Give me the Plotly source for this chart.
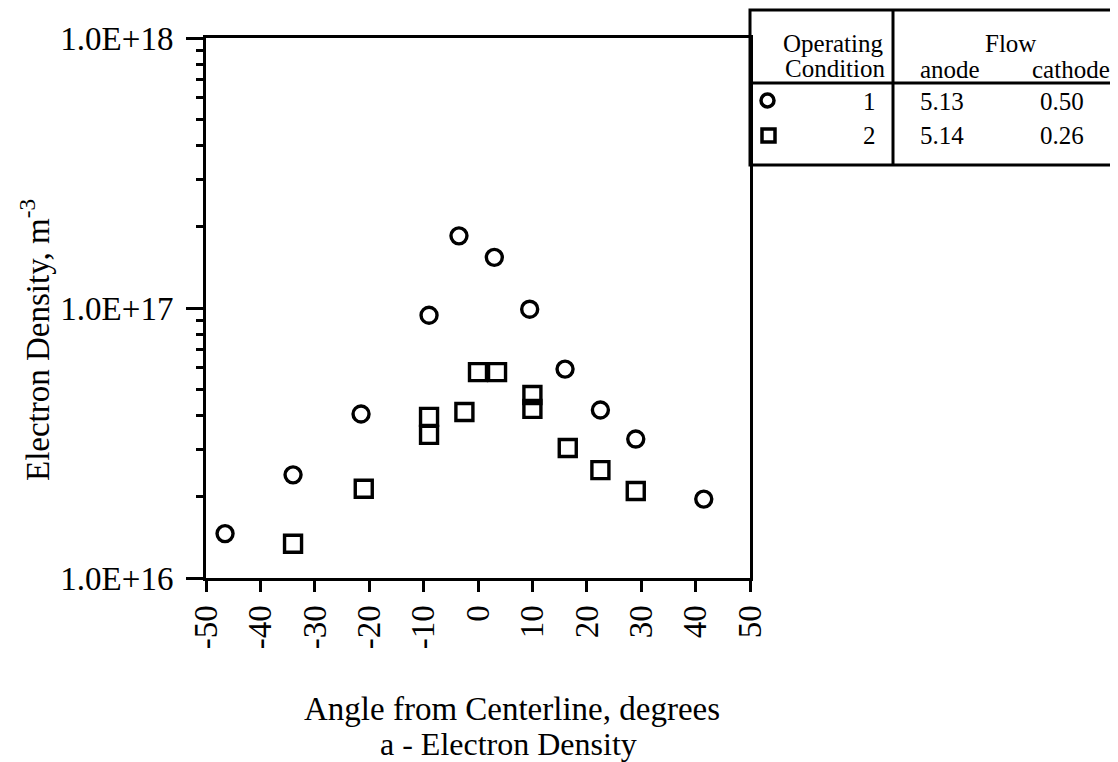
import plotly.graph_objects as go

# ---------------- data ----------------
circle_angle = [-46.5, -34, -21.5, -9, -3.5, 3, 9.5, 16, 22.5, 29, 41.5]
circle_density = [1.46e16, 2.41e16, 4.05e16, 9.4e16, 1.85e17, 1.54e17,
                  9.9e16, 5.94e16, 4.19e16, 3.27e16, 1.96e16]

square_angle = [-34, -21, -9, -9, -2.5, 0, 3.5, 10, 10, 16.5, 22.5, 29]
square_density = [1.34e16, 2.14e16, 3.95e16, 3.39e16, 4.12e16, 5.79e16,
                  5.79e16, 4.76e16, 4.23e16, 3.03e16, 2.51e16, 2.10e16]

x_ticks = [-50, -40, -30, -20, -10, 0, 10, 20, 30, 40, 50]
y_major = [1e16, 1e17, 1e18]
y_major_text = ["1.0E+16", "1.0E+17", "1.0E+18"]
y_minor = [m * 10 ** e for e in (16, 17) for m in range(2, 10)]

table_header = ["Operating", "Condition", "Flow", "anode", "cathode"]
conditions = ["1", "2"]
anode_flow = ["5.13", "5.14"]
cathode_flow = ["0.50", "0.26"]

# ---------------- layout geometry ----------------
OFF = 8                      # page body margin
W, H = 1118 - OFF, 762 - OFF
L, R, T, B = 206 - OFF, 750 - OFF, 38 - OFF, 578 - OFF
PW, PH = R - L, B - T
FONT = "Liberation Serif"


def px(x):
    """page pixel x (reference) -> paper coordinate"""
    return (x - OFF - L) / PW


def py(y):
    """page pixel y (reference) -> paper coordinate"""
    return (B - (y - OFF)) / PH


fig = go.Figure()

fig.add_trace(go.Scatter(
    x=circle_angle, y=circle_density, mode="markers", name="1",
    marker=dict(symbol="circle-open", size=16, color="black",
                line=dict(width=3.4, color="black")),
    showlegend=False))

fig.add_trace(go.Scatter(
    x=square_angle, y=square_density, mode="markers", name="2",
    marker=dict(symbol="square-open", size=17, color="black",
                line=dict(width=3.4, color="black")),
    showlegend=False))

fig.update_layout(
    width=W, height=H,
    margin=dict(l=L, r=W - R, t=T, b=H - B, pad=0),
    paper_bgcolor="white", plot_bgcolor="white",
    font=dict(family=FONT, color="black"),
    xaxis=dict(
        range=[-50, 50], tickvals=x_ticks, ticktext=[str(v) for v in x_ticks],
        tickangle=-90, ticks="outside", ticklen=11, tickwidth=2.5,
        tickcolor="black", showline=True, linewidth=3, linecolor="black",
        mirror=True, showgrid=False, zeroline=False,
        tickfont=dict(family=FONT, size=33, color="black"),
    ),
    yaxis=dict(
        type="log", range=[16, 18], tickvals=y_major, ticktext=y_major_text,
        ticks="outside", ticklen=17, tickwidth=2.5, tickcolor="black",
        minor=dict(tickvals=y_minor, ticks="outside", ticklen=7,
                   tickwidth=2.5, tickcolor="black"),
        showline=True, linewidth=3, linecolor="black", mirror=True,
        showgrid=False, zeroline=False, ticklabelstandoff=6,
        tickfont=dict(family=FONT, size=33, color="black"),
    ),
)

annotations = []
# axis titles
annotations.append(dict(
    x=px(512), y=py(709), xref="paper", yref="paper",
    text="Angle from Centerline, degrees", showarrow=False,
    xanchor="center", yanchor="middle",
    font=dict(family=FONT, size=33, color="black")))
annotations.append(dict(
    x=px(508), y=py(744), xref="paper", yref="paper",
    text="a - Electron Density", showarrow=False,
    xanchor="center", yanchor="middle",
    font=dict(family=FONT, size=32, color="black")))
annotations.append(dict(
    x=px(35), y=py(340), xref="paper", yref="paper",
    text="Electron Density, m<sup>-3</sup>", showarrow=False,
    textangle=-90, xanchor="center", yanchor="middle",
    font=dict(family=FONT, size=33, color="black")))

# table texts
tfont = dict(family=FONT, size=25, color="black")
cells = [
    (table_header[0], 833, 43), (table_header[1], 835, 68),
    (table_header[2], 1010, 43), (table_header[3], 950, 70),
    (table_header[4], 1071, 70),
    (conditions[0], 869, 101), (conditions[1], 869, 136),
    (anode_flow[0], 942, 101), (anode_flow[1], 942, 136),
    (cathode_flow[0], 1062, 101), (cathode_flow[1], 1062, 136),
]
for txt, cx, cy in cells:
    annotations.append(dict(
        x=px(cx), y=py(cy), xref="paper", yref="paper", text=txt,
        showarrow=False, xanchor="center", yanchor="middle", font=tfont))

fig.update_layout(annotations=annotations)

# table frame
line = dict(color="black", width=3)
shapes = [
    dict(type="rect", xref="paper", yref="paper",
         x0=px(750), x1=px(1112), y0=py(165), y1=py(10), line=line),
    dict(type="line", xref="paper", yref="paper",
         x0=px(893), x1=px(893), y0=py(165), y1=py(10), line=line),
    dict(type="line", xref="paper", yref="paper",
         x0=px(750), x1=px(1112), y0=py(83), y1=py(83), line=line),
    # legend symbols in table
    dict(type="circle", xref="paper", yref="paper",
         x0=px(761), x1=px(774), y0=py(107), y1=py(94),
         line=dict(color="black", width=3.5)),
    dict(type="rect", xref="paper", yref="paper",
         x0=px(762), x1=px(775), y0=py(142), y1=py(129),
         line=dict(color="black", width=3.5)),
]
fig.update_layout(shapes=shapes)

fig.write_html("out.html")
